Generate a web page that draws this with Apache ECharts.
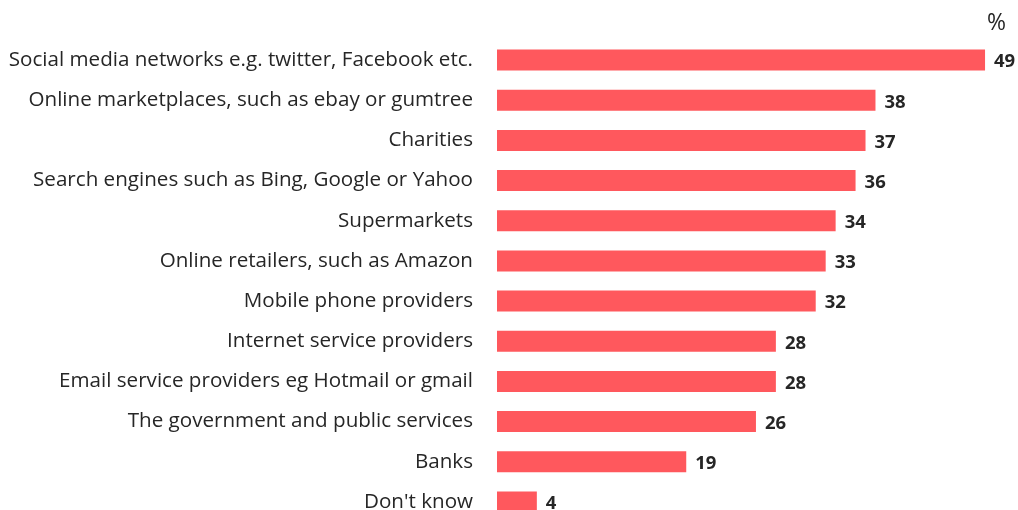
<!DOCTYPE html>
<html>
<head>
<meta charset="utf-8">
<script src="https://cdn.jsdelivr.net/npm/echarts@6/dist/echarts.min.js"></script>
<style>
  html, body { margin: 0; padding: 0; background: #ffffff; }
  #chart { width: 1018px; height: 510px; }
</style>
</head>
<body>
<div id="chart"></div>
<script>
// Organisations, listed top to bottom
const categories = [
  "Social media networks e.g. twitter, Facebook etc.",
  "Online marketplaces, such as ebay or gumtree",
  "Charities",
  "Search engines such as Bing, Google or Yahoo",
  "Supermarkets",
  "Online retailers, such as Amazon",
  "Mobile phone providers",
  "Internet service providers",
  "Email service providers eg Hotmail or gmail",
  "The government and public services",
  "Banks",
  "Don't know"
];
// Share of respondents, %
const values = [49, 38, 37, 36, 34, 33, 32, 28, 28, 26, 19, 4];

const textColor = "#262626";
const barColor = "#FF585D";
const font = "'Open Sans', 'Noto Sans', sans-serif";

const chart = echarts.init(document.getElementById("chart"), null, { renderer: "canvas" });
chart.setOption({
  animation: false,
  backgroundColor: "#ffffff",
  graphic: [{
    type: "text",
    left: 987,
    top: 12,
    style: { text: "%", fill: textColor, font: "23px " + font }
  }],
  // the last row runs past the bottom edge of the canvas
  grid: {
    left: 497, width: 498, top: 40, height: 482,
    containLabel: false,
    outerBoundsMode: "none"
  },
  xAxis: {
    type: "value",
    min: 0,
    max: 50,
    show: false
  },
  yAxis: {
    type: "category",
    inverse: true,
    data: categories,
    axisLine: { show: false },
    axisTick: { show: false },
    splitLine: { show: false },
    axisLabel: {
      margin: 24,
      color: textColor,
      fontFamily: font,
      fontSize: 20.6
    }
  },
  series: [{
    type: "bar",
    data: values,
    barWidth: 21,
    itemStyle: { color: barColor },
    label: {
      show: true,
      position: "right",
      distance: 9,
      color: textColor,
      fontFamily: font,
      fontWeight: "bold",
      fontSize: 18.5,
      offset: [0, 2]
    }
  }]
});
</script>
</body>
</html>
